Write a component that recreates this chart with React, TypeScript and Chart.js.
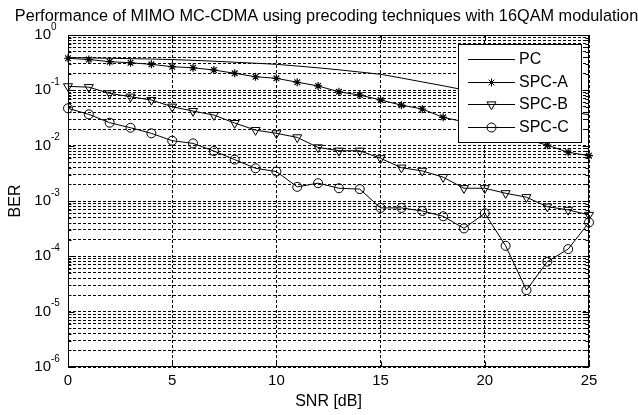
import React, { useEffect, useRef } from 'react';
import { Chart, registerables } from 'chart.js';

Chart.register(...registerables);

const snr = [0, 1, 2, 3, 4, 5, 6, 7, 8, 9, 10, 11, 12, 13, 14, 15, 16, 17, 18, 19, 20, 21, 22, 23, 24, 25];
const pc = [0.39, 0.385, 0.38, 0.374, 0.368, 0.36, 0.349, 0.336, 0.322, 0.309, 0.295, 0.275, 0.255, 0.235, 0.214, 0.195, 0.167, 0.142, 0.121, 0.102, 0.086, 0.072, 0.06, 0.051, 0.043, 0.036];
const spcA = [0.38, 0.36, 0.33, 0.315, 0.295, 0.267, 0.256, 0.233, 0.203, 0.176, 0.165, 0.14, 0.12, 0.094, 0.082, 0.067, 0.054, 0.046, 0.0325, 0.027, 0.022, 0.017, 0.013, 0.0102, 0.0076, 0.0066];
const spcB = [0.118, 0.114, 0.088, 0.0766, 0.0668, 0.0505, 0.0422, 0.0357, 0.0256, 0.0191, 0.0167, 0.0141, 0.0093, 0.0081, 0.0081, 0.0059, 0.004, 0.0035, 0.0027, 0.0017, 0.0017, 0.00138, 0.00117, 0.00079, 0.00069, 0.00056];
const spcC = [0.0473, 0.0368, 0.026, 0.0211, 0.0167, 0.0123, 0.011, 0.008, 0.0056, 0.0039, 0.0034, 0.0018, 0.0021, 0.0017, 0.00164, 0.00075, 0.00075, 0.00066, 0.00053, 0.00032, 0.0006, 0.000155, 0.0000245, 0.00008, 0.000135, 0.00041];

const seriesNames = ['PC', 'SPC-A', 'SPC-B', 'SPC-C'];
const xTicks = [0, 5, 10, 15, 20, 25];
const yExponents = [0, -1, -2, -3, -4, -5, -6];
const titleText = 'Performance of MIMO MC-CDMA using precoding techniques with 16QAM modulation';
const xLabel = 'SNR [dB]';
const yLabel = 'BER';

const FONT = '"Liberation Sans", Arial, Helvetica, sans-serif';

function gridValues(): number[] {
  const vals: number[] = [];
  for (let e = -6; e <= -1; e++) {
    for (let m = 1; m <= 9; m++) vals.push(m * Math.pow(10, e));
  }
  vals.push(1);
  return vals;
}

function drawMarker(ctx: CanvasRenderingContext2D, style: string, rot: number, r: number, x: number, y: number) {
  ctx.beginPath();
  if (style === 'circle') {
    ctx.arc(x, y, r, 0, Math.PI * 2);
  } else if (style === 'triangle') {
    let rad = (rot * Math.PI) / 180;
    ctx.moveTo(x + Math.sin(rad) * r, y - Math.cos(rad) * r);
    rad += (2 * Math.PI) / 3;
    ctx.lineTo(x + Math.sin(rad) * r, y - Math.cos(rad) * r);
    rad += (2 * Math.PI) / 3;
    ctx.lineTo(x + Math.sin(rad) * r, y - Math.cos(rad) * r);
    ctx.closePath();
  } else if (style === 'star') {
    const d = r * Math.SQRT1_2;
    ctx.moveTo(x - r, y); ctx.lineTo(x + r, y);
    ctx.moveTo(x, y - r); ctx.lineTo(x, y + r);
    ctx.moveTo(x - d, y - d); ctx.lineTo(x + d, y + d);
    ctx.moveTo(x - d, y + d); ctx.lineTo(x + d, y - d);
  }
  ctx.stroke();
}

const framePlugin = {
  id: 'matlabFrame',
  afterDraw(chart: any) {
    const { ctx, chartArea: a, scales } = chart;
    const xs = scales.x;
    const ys = scales.y;
    ctx.save();
    ctx.strokeStyle = '#000';
    ctx.fillStyle = '#000';
    ctx.lineWidth = 1;
    ctx.setLineDash([]);
    const L = Math.round(a.left) + 0.5;
    const R = Math.round(a.right) - 0.5;
    const T = Math.round(a.top) + 0.5;
    const B = Math.round(a.bottom) - 0.5;
    ctx.strokeRect(L, T, R - L, B - T);

    ctx.beginPath();
    xTicks.forEach((v) => {
      const px = Math.round(xs.getPixelForValue(v)) + 0.5;
      ctx.moveTo(px, B); ctx.lineTo(px, B - 5);
      ctx.moveTo(px, T); ctx.lineTo(px, T + 5);
    });
    gridValues().forEach((v) => {
      const py = Math.round(ys.getPixelForValue(v)) + 0.5;
      const major = Math.abs(Math.log10(v) - Math.round(Math.log10(v))) < 1e-9;
      const len = major ? 6 : 3;
      ctx.moveTo(L, py); ctx.lineTo(L + len, py);
      ctx.moveTo(R, py); ctx.lineTo(R - len, py);
    });
    ctx.stroke();

    // title
    ctx.font = `16.3px ${FONT}`;
    ctx.textAlign = 'center';
    ctx.textBaseline = 'alphabetic';
    ctx.fillText(titleText, (a.left + a.right) / 2 - 2, a.top - 14.5);

    // y tick labels with superscript exponents
    yExponents.forEach((e) => {
      const py = ys.getPixelForValue(Math.pow(10, e));
      ctx.font = `15px ${FONT}`;
      ctx.textAlign = 'right';
      ctx.textBaseline = 'middle';
      ctx.fillText('10', a.left - 17, py);
      ctx.font = `10px ${FONT}`;
      ctx.textAlign = 'left';
      ctx.fillText(String(e), a.left - 17, py - 8);
    });

    // legend
    const lx0 = Math.round(a.right) - 131;
    const lx1 = Math.round(a.right) - 8;
    const ly0 = Math.round(a.top) + 9;
    const ly1 = Math.round(a.top) + 107;
    ctx.fillStyle = '#fff';
    ctx.fillRect(lx0, ly0, lx1 - lx0, ly1 - ly0);
    ctx.strokeRect(lx0 + 0.5, ly0 + 0.5, lx1 - lx0, ly1 - ly0);
    ctx.fillStyle = '#000';
    chart.data.datasets.forEach((ds: any, i: number) => {
      const y = Math.round(ly0 + 15 + i * 22.5) + 0.5;
      ctx.beginPath();
      ctx.moveTo(lx0 + 10, y);
      ctx.lineTo(lx0 + 57, y);
      ctx.stroke();
      if (ds.pointRadius > 0) {
        drawMarker(ctx, ds.pointStyle, ds.pointRotation || 0, ds.pointRadius, lx0 + 33.5, y);
      }
      ctx.font = `16px ${FONT}`;
      ctx.textAlign = 'left';
      ctx.textBaseline = 'middle';
      ctx.fillText(ds.label, lx0 + 61, y);
    });
    ctx.restore();
  },
};

export default function App() {
  const canvasRef = useRef<HTMLCanvasElement | null>(null);

  useEffect(() => {
    document.body.style.margin = '0';
    const canvas = canvasRef.current;
    if (!canvas) return;
    Chart.defaults.font.family = FONT;
    Chart.defaults.color = '#000';

    const toPts = (arr: number[]) => snr.map((x, i) => ({ x, y: arr[i] }));
    const common = {
      borderColor: '#000',
      borderWidth: 1,
      pointBorderColor: '#000',
      pointBackgroundColor: 'rgba(0,0,0,0)',
      pointBorderWidth: 1,
      fill: false,
      tension: 0,
      clip: false as any,
    };

    const chart = new Chart(canvas, {
      type: 'line',
      data: {
        datasets: [
          { ...common, label: seriesNames[0], data: toPts(pc), pointRadius: 0 },
          { ...common, label: seriesNames[1], data: toPts(spcA), pointStyle: 'star', pointRadius: 4, pointBorderWidth: 1.2 },
          { ...common, label: seriesNames[2], data: toPts(spcB), pointStyle: 'triangle', pointRotation: 180, pointRadius: 5.2 },
          { ...common, label: seriesNames[3], data: toPts(spcC), pointStyle: 'circle', pointRadius: 4.5 },
        ] as any,
      },
      options: {
        responsive: false,
        animation: false,
        layout: { padding: { left: 0, right: 49, top: 35, bottom: 0 } },
        plugins: {
          legend: { display: false },
          tooltip: { enabled: false },
          title: { display: false },
        },
        scales: {
          x: {
            type: 'linear',
            min: 0,
            max: 25,
            afterBuildTicks: (s: any) => { s.ticks = xTicks.map((v) => ({ value: v })); },
            afterFit: (s: any) => { s.height = 48; },
            ticks: { font: { size: 15 }, color: '#000', padding: 5, autoSkip: false, maxRotation: 0 },
            grid: { color: '#000', lineWidth: 1, drawTicks: false },
            border: { display: false, dash: [3, 2] },
            title: { display: true, text: xLabel, color: '#000', font: { size: 16, lineHeight: 1.2 }, padding: { top: 0, bottom: 4 } },
          },
          y: {
            type: 'logarithmic',
            min: 1e-6,
            max: 1,
            afterBuildTicks: (s: any) => { s.ticks = gridValues().map((v) => ({ value: v })); },
            afterFit: (s: any) => { s.width = 68; },
            ticks: { display: false, autoSkip: false },
            grid: { color: '#000', lineWidth: 1, drawTicks: false },
            border: { display: false, dash: [3, 2] },
            title: { display: true, text: yLabel, color: '#000', font: { size: 16, lineHeight: 1.2 }, padding: { top: 6, bottom: 0 } },
          },
        },
      } as any,
      plugins: [framePlugin],
    });
    return () => chart.destroy();
  }, []);

  return (
    <div style={{ width: 638, height: 415, overflow: 'hidden', background: '#fff' }}>
      <canvas ref={canvasRef} width={638} height={415} style={{ display: 'block' }} />
    </div>
  );
}
